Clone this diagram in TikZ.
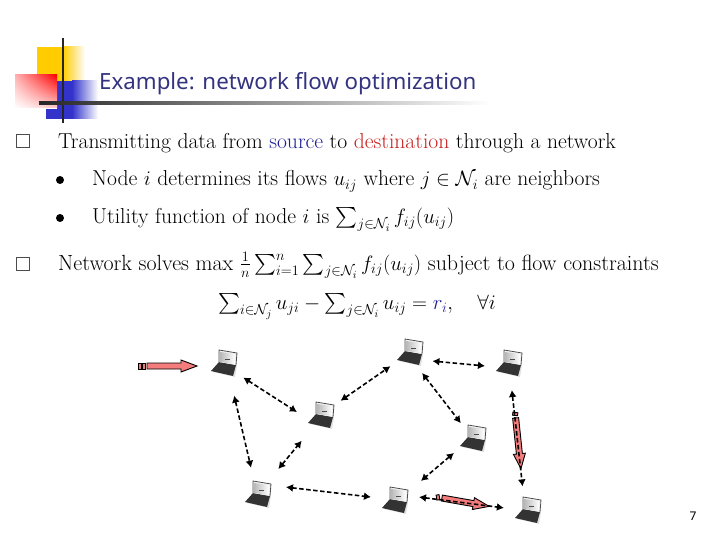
\documentclass[tikz,border=0pt]{standalone}
\usepackage{amsmath}
\usepackage{fontspec}
\usetikzlibrary{shadings,arrows.meta}
\newfontfamily\titlefont{Noto Sans}
\definecolor{titleblue}{RGB}{51,51,128}
\definecolor{logoyellow}{RGB}{255,204,0}
\definecolor{logoblue}{RGB}{51,51,204}
\definecolor{flowred}{RGB}{244,124,124}
\definecolor{srcblue}{RGB}{30,30,150}
\definecolor{dstred}{RGB}{200,30,30}
\tikzset{
  bodytext/.style={anchor=base west,inner sep=0pt,font=\fontsize{21.6}{24}\selectfont},
  hostnode/.style={circle,minimum size=48pt,inner sep=0pt},
  flowlink/.style={{Latex[length=7pt,width=8pt]}-{Latex[length=7pt,width=8pt]},line width=1.6pt,dash pattern={on 4.5pt off 2.5pt}},
  flowblock/.style={draw=black,line width=0.9pt,fill=flowred},
  laptop/.pic={
    \fill[black!12] (-11,-9) -- (-3,1) -- (13,-2) -- (11,-14) -- cycle;
    \fill[black!80] (-13,-8) -- (-5,1) -- (12,-2) -- (9,-13) -- cycle;
    \fill[black!6] (-5,1) -- (-5,13) -- (13,10) -- (12,-2) -- cycle;
    \shade[left color=black!28,right color=white] (-4,1) -- (-4,11) -- (11,9) -- (11,-1) -- cycle;
    \draw[black!70,line width=0.8pt] (-5,1) -- (-5,13) -- (13,10) -- (12,-2);
    \fill[black!70] (1,3) rectangle (6,4);
  }
}
\begin{document}
\begin{tikzpicture}[x=1pt,y=1pt,yscale=-1,xscale=1]
\useasboundingbox (0,0) rectangle (720,540);

%Logo
\fill[logoyellow] (37,47) rectangle (63,90);
\shade[left color=logoyellow,right color=white] (63,47) rectangle (85,90);
\fill[logoblue] (57,81) rectangle (72,119);
\fill[logoblue] (46,109) rectangle (57,119);
\shade[left color=logoblue,right color=white] (72,81) rectangle (98,119);
\shade[upper right=red,upper left=red!30,lower right=red!20,lower left=white] (15,75) rectangle (57,108);
\draw[line width=2.5pt,black!85] (63,38) -- (63,123);
\shade[left color=black!85,right color=white] (39,102) rectangle (490,104.5);

% Title
\node (title) [anchor=base west,inner sep=0pt,text=titleblue,font=\titlefont\fontsize{22.3}{25}\selectfont] at (99,90) {Example: network flow optimization};

% Text Nodes
\node (boxa) [draw=black!70,line width=0.7pt,minimum size=13pt,inner sep=0pt] at (23,141) {};
\node (line1) [bodytext] at (58,149) {Transmitting data from \textcolor{srcblue}{source} to \textcolor{dstred}{destination} through a network};
\node (dota) [circle,fill=black,minimum size=8pt,inner sep=0pt] at (60,180) {};
\node (line2) [bodytext] at (92,186) {Node $i$ determines its flows $u_{ij}$ where $j\in\mathcal{N}_i$ are neighbors};
\node (dotb) [circle,fill=black,minimum size=8pt,inner sep=0pt] at (60,218) {};
\node (line3) [bodytext] at (92,223) {Utility function of node $i$ is $\sum_{j\in\mathcal{N}_i} f_{ij}(u_{ij})$};
\node (boxb) [draw=black!70,line width=0.7pt,minimum size=13pt,inner sep=0pt] at (23,263.5) {};
\node (line4) [bodytext,font=\fontsize{21.95}{24}\selectfont] at (58,270) {Network solves max $\frac{1}{n}\sum_{i=1}^{n}\sum_{j\in\mathcal{N}_i} f_{ij}(u_{ij})$ subject to flow constraints};
\node (line5) [bodytext,font=\fontsize{21}{24}\selectfont] at (218,309) {$\sum_{i\in\mathcal{N}_j} u_{ji}-\sum_{j\in\mathcal{N}_i} u_{ij}=\textcolor{srcblue}{r_i},\quad\forall i$};
\node (pageno) [anchor=base,inner sep=0pt,font=\titlefont\fontsize{12}{14}\selectfont] at (693,520) {7};

% Hosts
\foreach \name/\px/\py in {na/224/363,nb/321/415,nc/410/352,nd/509/363,ne/473/438,nf/258/494,ng/395/500,nh/528/510}{
  \node (\name) [hostnode] at (\px,\py) {};
  \pic at (\name) {laptop};
}

% Flow arrows
\node (stripea) [flowblock,minimum width=3pt,minimum height=6pt,inner sep=0pt] at (139.5,366) {};
\node (stripeb) [flowblock,minimum width=3pt,minimum height=6pt,inner sep=0pt] at (144,366) {};
\draw[flowblock] (147,363) -- (181,363) -- (181,360) -- (197,366) -- (181,372) -- (181,369) -- (147,369) -- cycle;
\begin{scope}[shift={(515,412)},rotate=84]
\node (stripec) [flowblock,minimum width=3pt,minimum height=5pt,inner sep=0pt,rotate=84] at (2,0) {};
\draw[flowblock] (6,-3) -- (42,-3) -- (42,-6) -- (57,0) -- (42,6) -- (42,3) -- (6,3) -- cycle;
\end{scope}
\begin{scope}[shift={(436,497)},rotate=10]
\node (striped) [flowblock,minimum width=3pt,minimum height=5pt,inner sep=0pt,rotate=10] at (2,0) {};
\draw[flowblock] (6,-3) -- (38,-3) -- (38,-6) -- (54,0) -- (38,6) -- (38,3) -- (6,3) -- cycle;
\end{scope}

% Links
\draw[flowlink] (na.-37) -- (nb.173);
\draw[flowlink,shorten <=10pt,shorten >=3pt] (na.-71) -- (nf.105);
\draw[flowlink,shorten <=8pt,shorten >=8pt] (nf.51) -- (nb.-126);
\draw[flowlink,shorten <=5pt] (nf.18) -- (ng.173);
\draw[flowlink] (nb.36) -- (nc.-144);
\draw[flowlink] (nc.-22) -- (nd.-173);
\draw[flowlink,shorten >=-5pt] (nc.-60) -- (ne.129);
\draw[flowlink,shorten >=8pt] (ne.-142) -- (ng.35);
\draw[flowlink] (ng.7) -- (nh.175);
\draw[flowlink,shorten <=3pt] (nd.-84) -- (nh.103);

\end{tikzpicture}
\end{document}
